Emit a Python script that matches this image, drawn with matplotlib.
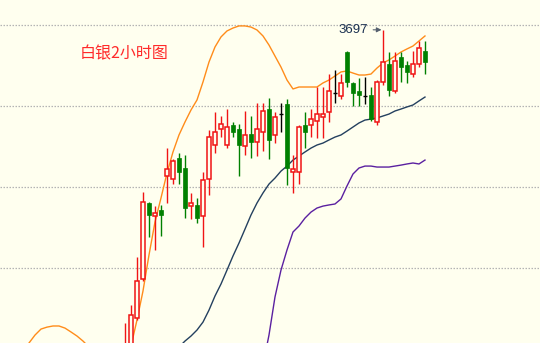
#!/usr/bin/env python3

# Silver 2-hour candlestick chart with Bollinger bands

import matplotlib
matplotlib.use("Agg")
import matplotlib.pyplot as plt
import numpy as np

nan = np.nan

# candle data (index 20..70 are visible; earlier bars are below the chart)
first_idx = 20
opens = [3486, 3493, 3519, 3543, 3590, 3582, 3586, 3607, 3605, 3618,
         3612, 3588, 3589, 3582, 3605, 3626, 3636, 3626, 3638, 3636,
         3625, 3633, 3628, 3634, 3648, 3632, 3645, 3651, 3609, 3609,
         3638, 3638, 3641, 3643, 3646, 3658, 3656, 3683, 3664, 3659,
         3656, 3657, 3640, 3665, 3676, 3659, 3680, 3675, 3670, 3676, 3684]
highs = [3516, 3527, 3557, 3597, 3591, 3588, 3589, 3624, 3617, 3621,
         3620, 3596, 3593, 3609, 3635, 3646, 3644, 3648, 3640, 3639,
         3647, 3644, 3652, 3652, 3655, 3646, 3652, 3654, 3620, 3638,
         3646, 3648, 3662, 3662, 3670, 3672, 3670, 3684, 3665, 3667,
         3668, 3662, 3666, 3697, 3683, 3683, 3683, 3678, 3684, 3690, 3690]
lows = [3481, 3490, 3518, 3542, 3569, 3561, 3570, 3590, 3602, 3602,
        3581, 3580, 3578, 3563, 3595, 3621, 3631, 3624, 3631, 3607,
        3620, 3618, 3619, 3622, 3617, 3627, 3634, 3601, 3596, 3602,
        3624, 3631, 3630, 3630, 3640, 3652, 3654, 3662, 3650, 3650,
        3651, 3641, 3638, 3663, 3656, 3658, 3665, 3664, 3668, 3674, 3670]
closes = [3499, 3521, 3542, 3591, 3583, 3584, 3583, 3611, 3616, 3609,
          3587, 3590, 3581, 3604, 3631, 3634, 3639, 3637, 3634, 3626,
          3632, 3628, 3636, 3647, 3629, 3643, 3645, 3612, 3611, 3637,
          3634, 3642, 3645, 3645, 3659, 3658, 3664, 3665, 3658, 3657,
          3656, 3642, 3665, 3677, 3660, 3678, 3674, 3671, 3676, 3686, 3677]

# Bollinger bands, index 0..70 (nan where off the chart)
upper_band = [nan, nan, nan, 3498, 3503.7, 3508.6, 3512.3, 3513.5, 3514.2, 3514.2,
              3512.9, 3510.5, 3508.0, 3504.9, 3501.2, nan, nan, nan, nan, nan,
              3489, 3501.8, 3517.9, 3535.8, 3558.0, 3578.4, 3593.2, 3608.6, 3621.6, 3632.1,
              3640.1, 3647.5, 3653.7, 3664.8, 3677.1, 3686.4, 3692.6, 3696.3, 3698.1, 3699.4,
              3699.4, 3698.7, 3696.9, 3693.2, 3687.6, 3680.8, 3674.0, 3666.0, 3660.5, 3661.7,
              3661.7, 3661.7, 3661.7, 3664.2, 3666.0, 3668.5, 3671.0, 3671.6, 3670.3, 3669.1,
              3669.1, 3669.7, 3673.4, 3676.5, 3678.4, 3680.8, 3683.3, 3685.2, 3687.0, 3690.1,
              3693.2]
middle_band = [nan] * 29 + [
              3501.2, 3504.9, 3508.0, 3511.7, 3516.6, 3524.0, 3532.7, 3540.1, 3548.7, 3557.4,
              3565.4, 3574.0, 3582.7, 3590.1, 3596.3, 3601.8, 3605.5, 3609.8, 3612.9, 3616.6,
              3619.1, 3621.6, 3624.0, 3625.9, 3627.1, 3629.0, 3630.8, 3632.1, 3634.5, 3637.0,
              3639.5, 3641.3, 3641.9, 3642.6, 3643.8, 3645.0, 3646.9, 3648.1, 3649.4, 3650.6,
              3653.1, 3655.5]
lower_band = [nan] * 43 + [
              3490.1, 3508.6, 3532.1, 3548.7, 3561.1, 3572.2, 3575.9, 3580.8, 3584.5, 3587.0,
              3588.2, 3588.9, 3589.5, 3592.6, 3600.6, 3608.0, 3611.7, 3612.9, 3612.9, 3612.3,
              3612.3, 3612.3, 3612.9, 3613.5, 3614.2, 3614.8, 3614.2, 3616.6]

grid_levels = [3550, 3600, 3650, 3700]
title = "白银2小时图"
peak_label = "3697"

BG = "#ffffef"
RED = "#f01414"
GREEN = "#008000"

fig = plt.figure(figsize=(5.4, 3.43), dpi=100)
fig.patch.set_facecolor(BG)
ax = fig.add_axes([0, 0, 1, 1])
ax.set_facecolor(BG)
for s in ax.spines.values():
    s.set_visible(False)
ax.set_xticks([])
ax.set_yticks([])

ax.set_xlim(-0.833, 89.17)
ax.set_ylim(3503.7, 3715.4)

for g in grid_levels:
    ax.axhline(g, color="#b4b4b4", lw=0.9, ls=(0, (1.2, 1.2)), zorder=0)

# bands
idx = np.arange(len(upper_band))
ax.plot(idx, upper_band, color="#ff8c1a", lw=1.0, zorder=1)
ax.plot(idx, middle_band, color="#24405f", lw=1.0, zorder=1)
ax.plot(idx, lower_band, color="#5a20a0", lw=1.0, zorder=1)

# candles
w = 0.72
for k in range(len(opens)):
    x = first_idx + k
    o, h, l, c = opens[k], highs[k], lows[k], closes[k]
    if c > o:
        ax.vlines(x, l, h, color=RED, lw=1.0, zorder=2)
        ax.bar(x, c - o, bottom=o, width=w, facecolor=BG, edgecolor=RED, lw=1.1, zorder=3)
    elif c < o:
        ax.vlines(x, l, h, color=GREEN, lw=1.0, zorder=2)
        ax.bar(x, o - c, bottom=c, width=w, facecolor=GREEN, edgecolor=GREEN, lw=0.5, zorder=3)
    else:
        ax.vlines(x, l, h, color="black", lw=1.0, zorder=2)
        ax.hlines(o, x - w / 2, x + w / 2, color="black", lw=1.0, zorder=3)

# highest high label
hi_k = int(np.argmax(highs))
ax.annotate(peak_label, xy=(first_idx + hi_k - 0.25, highs[hi_k]),
            xytext=(-10, 0), textcoords="offset points", ha="right", va="center",
            fontsize=9.5, family=["Liberation Sans", "DejaVu Sans"], color="#1a3050",
            arrowprops=dict(arrowstyle="-|>", color="#55606e", lw=0.8,
                            mutation_scale=7, shrinkA=2, shrinkB=0))

ax.text(80 / 540, 1 - 54 / 343, title, transform=ax.transAxes, ha="left", va="center",
        fontsize=11.5, color="#ff2a2a", family=["Noto Sans CJK SC", "DejaVu Sans"])

fig.savefig("out.png", dpi=100, facecolor=BG)
